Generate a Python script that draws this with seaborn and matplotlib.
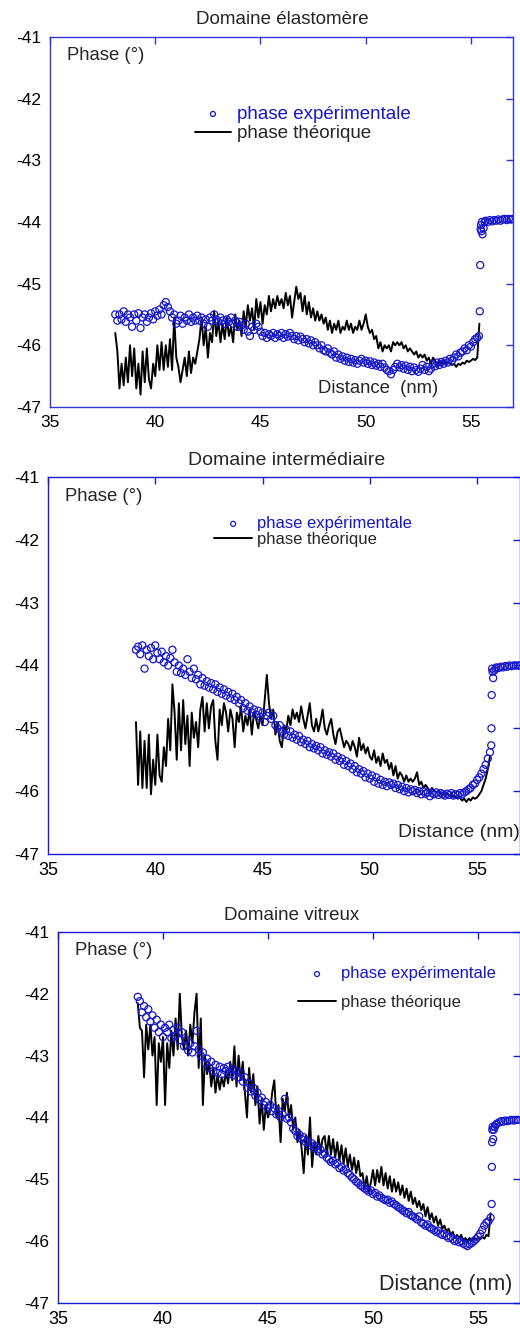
import numpy as np
import matplotlib
matplotlib.use("Agg")
import matplotlib.pyplot as plt
import seaborn as sns

# valeurs : phase (degres) en fonction de la distance (nm)
# pas de 0.1 nm pour les courbes, la queue (saut final) est donnee point par point

# --- Domaine elastomere ---
elasto_theo_debut, elasto_theo_fin = 38.1, 55.4
elasto_theo = [
    -45.8, -46.1, -46.7, -46.3, -46.65, -46.2, -46.6, -46.0, -46.5, -46.05,
    -46.7, -46.3, -46.8, -46.1, -46.6, -46.05, -46.55, -46.7, -46.3, -46.5,
    -46.0, -46.4, -45.95, -46.4, -46.0, -46.35, -45.9, -46.4, -45.55, -46.2,
    -46.35, -46.6, -46.4, -46.2, -46.5, -46.1, -46.45, -46.2, -46.3, -46.1,
    -45.9, -45.55, -46.0, -45.7, -46.2, -45.8, -45.95, -45.45, -45.85, -45.6,
    -45.95, -45.65, -45.9, -45.55, -45.85, -45.7, -45.95, -45.5, -45.75, -45.6,
    -45.85, -45.45, -45.7, -45.35, -45.6, -45.4, -45.75, -45.25, -45.55, -45.3,
    -45.65, -45.35, -45.5, -45.2, -45.45, -45.25, -45.4, -45.2, -45.35, -45.25,
    -45.4, -45.15, -45.35, -45.2, -45.55, -45.3, -45.05, -45.25, -45.15, -45.45,
    -45.2, -45.5, -45.3, -45.55, -45.4, -45.6, -45.45, -45.6, -45.5, -45.65,
    -45.55, -45.75, -45.6, -45.8, -45.65, -45.75, -45.6, -45.8, -45.7, -45.75,
    -45.6, -45.75, -45.65, -45.8, -45.7, -45.75, -45.6, -45.75, -45.65, -45.5,
    -45.7, -45.8, -45.75, -45.9, -45.85, -46.05, -45.95, -46.1, -46.0, -46.05,
    -46.0, -46.1, -45.95, -46.0, -45.95, -46.0, -45.95, -46.05, -46.0, -46.1,
    -46.05, -46.1, -46.15, -46.1, -46.2, -46.15, -46.2, -46.15, -46.25, -46.2,
    -46.3, -46.2, -46.25, -46.35, -46.25, -46.3, -46.25, -46.3, -46.28, -46.3,
    -46.32, -46.3, -46.35, -46.3, -46.32, -46.28, -46.3, -46.25, -46.27, -46.25,
    -46.22, -46.24, -46.2, -45.65,
]
elasto_exp_debut, elasto_exp_fin = 38.1, 55.3
elasto_exp = [
    -45.5, -45.6, -45.5, -45.58, -45.45, -45.62, -45.5, -45.55, -45.7, -45.5,
    -45.6, -45.48, -45.72, -45.55, -45.5, -45.62, -45.55, -45.48, -45.58, -45.45,
    -45.52, -45.42, -45.5, -45.35, -45.3, -45.38, -45.45, -45.55, -45.5, -45.65,
    -45.6, -45.52, -45.65, -45.55, -45.6, -45.5, -45.62, -45.55, -45.6, -45.52,
    -45.6, -45.55, -45.65, -45.58, -45.7, -45.55, -45.6, -45.5, -45.58, -45.62,
    -45.55, -45.6, -45.65, -45.58, -45.62, -45.55, -45.65, -45.6, -45.7, -45.62,
    -45.68, -45.75, -45.65, -45.78, -45.85, -45.7, -45.75, -45.65, -45.7, -45.78,
    -45.85, -45.8, -45.88, -45.82, -45.85, -45.8, -45.88, -45.82, -45.85, -45.8,
    -45.88, -45.82, -45.86, -45.8, -45.85, -45.9, -45.85, -45.92, -45.86, -45.9,
    -45.95, -45.9, -45.97, -45.92, -46.0, -45.95, -46.0, -46.05, -46.0, -46.08,
    -46.1, -46.05, -46.12, -46.15, -46.1, -46.2, -46.15, -46.22, -46.18, -46.25,
    -46.2, -46.27, -46.22, -46.28, -46.24, -46.3, -46.25, -46.22, -46.28, -46.25,
    -46.3, -46.26, -46.32, -46.28, -46.33, -46.3, -46.35, -46.3, -46.36, -46.4,
    -46.42, -46.47, -46.4, -46.35, -46.3, -46.36, -46.32, -46.38, -46.33, -46.4,
    -46.35, -46.42, -46.36, -46.4, -46.43, -46.38, -46.32, -46.4, -46.35, -46.42,
    -46.38, -46.3, -46.34, -46.28, -46.32, -46.27, -46.3, -46.25, -46.28, -46.22,
    -46.25, -46.2, -46.15, -46.18, -46.12, -46.1, -46.05, -46.08, -46.0, -46.02,
    -45.95, -45.9, -45.88,
]
elasto_queue_x = [55.38, 55.42, 55.44, 55.46, 55.48, 55.5, 55.52, 55.55, 55.6, 55.65,
                  55.7, 55.8, 55.9, 56.0, 56.1, 56.2, 56.3, 56.4, 56.5, 56.6,
                  56.7, 56.8, 56.9, 56.98]
elasto_queue_y = [-45.85, -45.45, -44.7, -44.12, -44.05, -44.15, -44.0, -44.2, -44.1, -44.0,
                  -43.98, -44.0, -43.97, -43.99, -43.97, -43.98, -43.96, -43.98, -43.96, -43.95,
                  -43.97, -43.95, -43.96, -43.95]

# --- Domaine intermediaire ---
inter_theo_debut, inter_theo_fin = 39.1, 55.6
inter_theo = [
    -44.9, -45.9, -45.05, -45.95, -45.2, -45.95, -45.1, -46.05, -45.5, -45.9,
    -45.1, -45.75, -45.85, -45.3, -45.6, -44.85, -45.35, -44.3, -44.75, -45.5,
    -44.6, -45.35, -44.55, -45.25, -44.8, -45.6, -44.75, -45.15, -44.9, -45.3,
    -44.7, -44.5, -45.05, -44.6, -45.0, -44.65, -44.55, -45.2, -45.5, -44.7,
    -44.95, -44.6, -44.75, -45.05, -44.7, -44.85, -45.3, -44.75, -44.9, -44.65,
    -45.05, -44.8, -44.95, -44.7, -45.1, -44.75, -44.85, -45.0, -44.8, -44.95,
    -44.55, -44.15, -44.6, -44.85, -44.7, -45.1, -44.9, -45.2, -45.3, -44.95,
    -45.05, -44.8, -44.95, -44.7, -44.85, -44.75, -44.9, -44.65, -44.85, -45.0,
    -44.8, -44.6, -44.95, -45.05, -44.85, -45.05, -44.9, -44.7, -45.0, -45.1,
    -44.95, -44.85, -45.1, -45.25, -45.05, -45.0, -45.15, -45.3, -45.2, -45.25,
    -45.35, -45.2, -45.3, -45.45, -45.15, -45.35, -45.25, -45.4, -45.3, -45.45,
    -45.5, -45.35, -45.55, -45.45, -45.6, -45.4, -45.55, -45.5, -45.65, -45.55,
    -45.75, -45.6, -45.8, -45.7, -45.75, -45.85, -45.75, -45.85, -45.8, -45.85,
    -45.8, -45.7, -45.9, -45.85, -45.95, -45.9, -45.95, -46.0, -45.95, -46.0,
    -46.02, -46.0, -46.05, -46.03, -46.06, -46.04, -46.07, -46.05, -46.1, -46.08,
    -46.12, -46.1, -46.15, -46.12, -46.17, -46.12, -46.15, -46.1, -46.12, -46.1,
    -46.05, -46.0, -45.9, -45.8, -45.65, -45.45,
]
inter_exp_debut, inter_exp_fin = 39.1, 55.6
inter_exp = [
    -43.75, -43.7, -43.82, -43.68, -44.05, -43.75, -43.85, -43.72, -43.9, -43.68,
    -43.8, -43.9, -43.78, -43.95, -43.85, -44.0, -43.88, -43.75, -43.95, -44.1,
    -44.0, -44.12, -44.05, -44.15, -43.9, -44.1, -44.2, -44.05, -44.22, -44.15,
    -44.3, -44.2, -44.32, -44.25, -44.35, -44.28, -44.38, -44.3, -44.42, -44.35,
    -44.45, -44.38, -44.48, -44.42, -44.52, -44.45, -44.55, -44.5, -44.6, -44.55,
    -44.68, -44.6, -44.72, -44.65, -44.75, -44.7, -44.78, -44.72, -44.82, -44.75,
    -44.9, -44.8, -44.75, -44.85, -44.8, -44.95, -45.0, -44.95, -45.05, -45.1,
    -45.02, -45.12, -45.05, -45.15, -45.1, -45.18, -45.12, -45.22, -45.18, -45.25,
    -45.2, -45.3, -45.25, -45.32, -45.28, -45.35, -45.3, -45.4, -45.35, -45.42,
    -45.38, -45.45, -45.4, -45.5, -45.45, -45.52, -45.48, -45.58, -45.52, -45.6,
    -45.56, -45.65, -45.6, -45.7, -45.65, -45.72, -45.68, -45.78, -45.72, -45.8,
    -45.75, -45.85, -45.78, -45.88, -45.82, -45.9, -45.85, -45.92, -45.86, -45.9,
    -45.88, -45.95, -45.9, -45.97, -45.93, -46.0, -45.95, -46.02, -45.97, -46.0,
    -45.98, -46.03, -46.0, -46.05, -46.0, -46.04, -46.02, -46.08, -46.03, -46.05,
    -46.02, -46.06, -46.03, -46.05, -46.07, -46.04, -46.06, -46.03, -46.07, -46.05,
    -46.06, -46.03, -46.05, -46.02, -46.0, -45.97, -45.95, -45.9, -45.88, -45.82,
    -45.78, -45.72, -45.65, -45.58, -45.48, -45.38,
]
inter_queue_x = [55.66, 55.67, 55.68, 55.7, 55.72, 55.75, 55.8, 55.85, 55.9, 56.0,
                 56.1, 56.2, 56.3, 56.4, 56.5, 56.6, 56.7, 56.8, 56.9, 57.0]
inter_queue_y = [-45.27, -45.0, -44.47, -44.05, -44.1, -44.2, -44.08, -44.05, -44.03, -44.04,
                 -44.02, -44.03, -44.01, -44.02, -44.0, -44.01, -44.0, -44.0, -44.0, -44.0]

# --- Domaine vitreux ---
vitr_theo_debut, vitr_theo_fin = 38.8, 55.6
vitr_theo = [
    -42.15, -42.55, -42.6, -43.35, -42.5, -42.9, -42.5, -43.0, -42.7, -43.8,
    -42.8, -43.1, -42.7, -43.8, -42.8, -43.2, -42.6, -43.0, -42.4, -42.9,
    -42.0, -42.7, -42.9, -42.6, -43.0, -42.5, -42.8, -42.3, -42.0, -43.2,
    -42.4, -43.8, -43.0, -43.3, -43.1, -43.5, -43.2, -43.6, -43.3, -43.55,
    -43.35, -43.5, -43.25, -43.45, -43.1, -43.4, -42.85, -43.5, -43.0, -43.4,
    -43.1, -43.6, -44.0, -43.2, -43.6, -43.3, -43.8, -43.5, -44.1, -43.7,
    -44.2, -43.8, -44.0, -43.9, -43.6, -43.4, -44.0, -43.8, -44.4, -43.7,
    -43.9, -43.6, -44.0, -43.8, -44.2, -44.0, -44.4, -44.2, -44.5, -44.9,
    -44.3, -44.6, -44.0, -44.8, -44.4, -44.6, -44.3, -44.55, -44.35, -44.3,
    -44.6, -44.3, -44.6, -44.35, -44.65, -44.4, -44.7, -44.45, -44.75, -44.5,
    -44.8, -44.6, -44.85, -44.65, -44.9, -44.7, -44.95, -44.9, -45.15, -44.95,
    -45.2, -45.05, -44.85, -45.1, -44.85, -45.05, -44.8, -45.1, -44.9, -45.15,
    -44.95, -45.2, -45.0, -45.2, -45.05, -45.25, -45.1, -45.3, -45.15, -45.35,
    -45.2, -45.4, -45.3, -45.45, -45.35, -45.5, -45.4, -45.6, -45.45, -45.65,
    -45.55, -45.7, -45.6, -45.75, -45.65, -45.8, -45.75, -45.85, -45.8, -45.9,
    -45.85, -45.95, -45.9, -45.95, -45.9, -46.0, -45.95, -46.0, -45.95, -46.0,
    -45.95, -45.98, -45.95, -45.97, -45.93, -45.96, -45.9, -45.92, -45.55,
]
vitr_exp_debut, vitr_exp_fin = 38.8, 55.6
vitr_exp = [
    -42.05, -42.12, -42.3, -42.2, -42.38, -42.25, -42.45, -42.35, -42.55, -42.42,
    -42.62, -42.5, -42.7, -42.55, -42.62, -42.5, -42.72, -42.58, -42.68, -42.55,
    -42.75, -42.62, -42.85, -42.75, -42.92, -42.8, -42.95, -42.85, -42.6, -42.9,
    -43.0, -42.95, -43.12, -43.05, -43.2, -43.1, -43.25, -43.15, -43.28, -43.18,
    -43.3, -43.2, -43.25, -43.18, -43.3, -43.22, -43.32, -43.25, -43.35, -43.28,
    -43.42, -43.35, -43.52, -43.45, -43.58, -43.52, -43.65, -43.6, -43.72, -43.68,
    -43.8, -43.75, -43.85, -43.8, -43.9, -43.85, -43.95, -43.9, -44.0, -43.95,
    -43.7, -44.02, -44.0, -44.08, -44.18, -44.22, -44.3, -44.28, -44.35, -44.32,
    -44.4, -44.38, -44.45, -44.42, -44.5, -44.47, -44.55, -44.52, -44.6, -44.58,
    -44.65, -44.68, -44.72, -44.7, -44.76, -44.74, -44.82, -44.8, -44.86, -44.84,
    -44.9, -44.93, -44.97, -45.0, -45.04, -45.06, -45.1, -45.12, -45.15, -45.17,
    -45.2, -45.18, -45.24, -45.22, -45.28, -45.26, -45.3, -45.32, -45.34, -45.33,
    -45.38, -45.36, -45.4, -45.42, -45.45, -45.47, -45.5, -45.52, -45.55, -45.53,
    -45.58, -45.6, -45.62, -45.65, -45.6, -45.7, -45.72, -45.75, -45.73, -45.78,
    -45.8, -45.82, -45.85, -45.83, -45.88, -45.9, -45.88, -45.92, -45.95, -45.93,
    -45.97, -46.0, -45.98, -46.02, -46.0, -46.04, -46.06, -46.08, -46.05, -46.03,
    -46.0, -45.97, -45.93, -45.88, -45.82, -45.75, -45.7, -45.68, -45.62,
]
vitr_queue_x = [55.65, 55.66, 55.67, 55.68, 55.7, 55.72, 55.75, 55.8, 55.85, 55.9,
                56.0, 56.1, 56.2, 56.3, 56.4, 56.5, 56.6, 56.7, 56.8, 56.9]
vitr_queue_y = [-45.4, -44.8, -44.4, -44.2, -44.15, -44.35, -44.2, -44.15, -44.12, -44.1,
                -44.08, -44.06, -44.07, -44.05, -44.06, -44.05, -44.04, -44.05, -44.04, -44.04]

titres = ["Domaine élastomère", "Domaine intermédiaire", "Domaine vitreux"]
y_ticks = [-47, -46, -45, -44, -43, -42, -41]
x_ticks = [35, 40, 45, 50, 55]


def grille(debut, fin):
    return np.round(np.arange(debut, fin + 0.05, 0.1), 1)


panneaux = [
    (grille(elasto_theo_debut, elasto_theo_fin), elasto_theo,
     np.concatenate([grille(elasto_exp_debut, elasto_exp_fin), elasto_queue_x]),
     elasto_exp + elasto_queue_y),
    (grille(inter_theo_debut, inter_theo_fin), inter_theo,
     np.concatenate([grille(inter_exp_debut, inter_exp_fin), inter_queue_x]),
     inter_exp + inter_queue_y),
    (grille(vitr_theo_debut, vitr_theo_fin), vitr_theo,
     np.concatenate([grille(vitr_exp_debut, vitr_exp_fin), vitr_queue_x]),
     vitr_exp + vitr_queue_y),
]

sns.set_style("white")
plt.rcParams["font.family"] = ["Liberation Sans", "DejaVu Sans"]
plt.rcParams["axes.unicode_minus"] = False

bleu = "#1616cc"
cadres = ["#3434dc", "#1a1ad6", "#1a1ad6"]

fig = plt.figure(figsize=(5.2, 13.29), dpi=100)

# positions des axes [gauche, bas, largeur, hauteur]
positions = [
    [0.0962, 0.6938, 0.8904, 0.2784],
    [0.0923, 0.3574, 0.9077, 0.2837],
    [0.1115, 0.0196, 0.8885, 0.2792],
]
titre_pos = [(0.542, 0.9850), (0.552, 0.6536), (0.560, 0.3108)]
titre_taille = [13.5, 14, 13.5]
leg_pos = [(0.313, 0.814), (0.352, 0.896), (0.5195, 0.907)]
leg_espace = [0.12, 0.05, 0.8]
leg_taille = [13.5, 12, 12]
leg_poignee = [1.92, 2.28, 2.28]
dist_pos = [(0.579, 0.051), (0.742, 0.056), (0.695, 0.051)]
dist_txt = ["Distance  (nm)", "Distance (nm)", "Distance (nm)"]
dist_taille = [13.3, 14, 15.5]
xtick_taille = [12.5, 13, 13]

for i, (xt, yt, xe, ye) in enumerate(panneaux):
    assert len(xt) == len(yt) and len(xe) == len(ye)
    ax = fig.add_axes(positions[i])

    sns.lineplot(x=xt, y=yt, ax=ax, color="black", linewidth=1.4,
                 estimator=None, sort=False, label="phase théorique", legend=False)
    sns.scatterplot(x=xe, y=ye, ax=ax, marker="o", s=26, facecolor="none",
                    edgecolor=bleu, linewidth=0.9, label="phase expérimentale",
                    legend=False, zorder=3)

    ax.set_xlim(35, 57)
    ax.set_ylim(-47, -41)
    ax.set_xticks(x_ticks)
    ax.set_yticks(y_ticks)
    ax.set_xlabel("")
    ax.set_ylabel("")
    for s in ax.spines.values():
        s.set_visible(True)
        s.set_color(cadres[i])
        s.set_linewidth(1.0)
    ax.tick_params(direction="in", length=5, width=1, color=cadres[i],
                   top=True, right=True, labelcolor="black", pad=6)
    ax.tick_params(axis="y", labelsize=12.5)
    ax.tick_params(axis="x", labelsize=xtick_taille[i])

    fig.text(titre_pos[i][0], titre_pos[i][1], titres[i], ha="center",
             va="center", fontsize=titre_taille[i])
    ax.text(0.037, 0.949, "Phase (°)", transform=ax.transAxes, ha="left",
            va="center", fontsize=13.3)
    ax.text(dist_pos[i][0], dist_pos[i][1], dist_txt[i], transform=ax.transAxes,
            ha="left", va="center", fontsize=dist_taille[i])

    h, l = ax.get_legend_handles_labels()
    leg = ax.legend(h[::-1], l[::-1], loc="upper left", bbox_to_anchor=leg_pos[i],
                    frameon=False, borderpad=0, borderaxespad=0,
                    handlelength=leg_poignee[i], handletextpad=0.3,
                    labelspacing=leg_espace[i], fontsize=leg_taille[i],
                    scatterpoints=1, markerscale=0.7)
    leg.get_texts()[0].set_color(bleu)

fig.savefig("out.png", dpi=100)
